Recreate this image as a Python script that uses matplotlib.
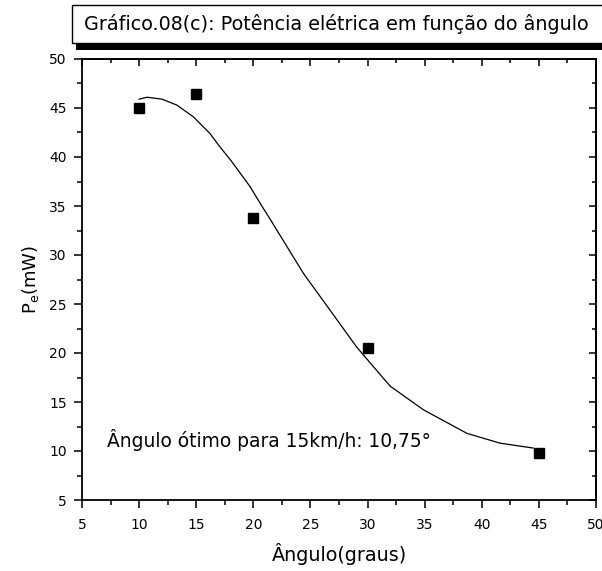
import matplotlib
matplotlib.use("Agg")
import matplotlib.pyplot as plt
from matplotlib.patches import Rectangle
from matplotlib.ticker import MultipleLocator

plt.rcParams['font.family'] = ['DejaVu Sans']

# measured data points
angles = [10, 15, 20, 30, 45]
power = [45.0, 46.4, 33.8, 20.5, 9.8]

# fitted curve
fit_x = [10.0, 10.7, 12.0, 13.3, 14.75, 16.2, 17.1, 18.0, 19.7, 20.85, 21.5,
         24.4, 26.7, 29.05, 31.4, 32.0, 34.9, 38.7, 41.6, 44.5]
fit_y = [45.9, 46.1, 45.9, 45.3, 44.1, 42.4, 41.0, 39.7, 37.0, 34.8, 33.6,
         28.1, 24.4, 20.6, 17.4, 16.6, 14.2, 11.8, 10.8, 10.3]

title = "Gráfico.08(c): Potência elétrica em função do ângulo"
annotation = "Ângulo ótimo para 15km/h: 10,75°"
xlabel = "Ângulo(graus)"
ylabel = r"$\mathregular{P_e(mW)}$"

W, H = 602, 571
fig = plt.figure(figsize=(W / 100, H / 100), dpi=100)
ax = fig.add_axes([82 / W, 1 - 500 / H, (596 - 82) / W, (500 - 59) / H])

ax.plot(fit_x, fit_y, color='black', lw=0.9)
ax.plot(angles, power, 's', color='black', markersize=6.5)

ax.set_xlim(5, 50)
ax.set_ylim(5, 50)
ax.xaxis.set_major_locator(MultipleLocator(5))
ax.xaxis.set_minor_locator(MultipleLocator(2.5))
ax.yaxis.set_major_locator(MultipleLocator(5))
ax.yaxis.set_minor_locator(MultipleLocator(2.5))

for s in ax.spines.values():
    s.set_linewidth(1.3)

ax.tick_params(axis='both', which='major', direction='out', length=6, width=1.1,
               labelsize=10, pad=5)
ax.tick_params(axis='x', which='major', pad=7)
ax.tick_params(axis='both', which='minor', direction='out', length=3.5, width=1.1)

# mirrored inward ticks on top/right
sec_x = ax.secondary_xaxis('top')
sec_x.xaxis.set_major_locator(MultipleLocator(5))
sec_x.xaxis.set_minor_locator(MultipleLocator(2.5))
sec_x.tick_params(which='major', direction='in', length=5, width=1.1, labeltop=False)
sec_x.tick_params(which='minor', direction='in', length=3, width=1.1)
sec_x.spines['top'].set_linewidth(1.3)
sec_y = ax.secondary_yaxis('right')
sec_y.yaxis.set_major_locator(MultipleLocator(5))
sec_y.yaxis.set_minor_locator(MultipleLocator(2.5))
sec_y.tick_params(which='major', direction='in', length=5, width=1.1, labelright=False)
sec_y.tick_params(which='minor', direction='in', length=3, width=1.1)
sec_y.spines['right'].set_linewidth(1.3)

ax.set_xlabel(xlabel, fontsize=13.8, labelpad=8)
ax.set_ylabel(ylabel, fontsize=13, labelpad=6)

ax.text(7.2, 11.1, annotation, fontsize=13.4, va='center', ha='left')

# title box with shadow
fig.patches.append(Rectangle((76 / W, 1 - 50 / H), (W - 76 + 5) / W, 7 / H,
                             transform=fig.transFigure, facecolor='black',
                             edgecolor='none', zorder=1))
fig.patches.append(Rectangle((72 / W, 1 - 43 / H), (W - 72 + 5) / W, 38 / H,
                             transform=fig.transFigure, facecolor='white',
                             edgecolor='black', lw=1.0, zorder=2))
fig.text(84 / W, 1 - 24 / H, title, fontsize=13.8, va='center', ha='left', zorder=3)

fig.savefig("out.png", dpi=100)
